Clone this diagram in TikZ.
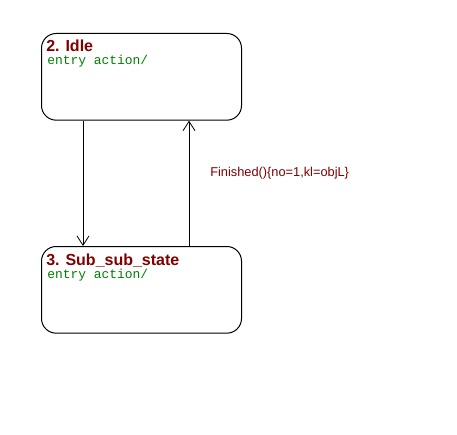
\documentclass[tikz,border=0pt]{standalone}
\usepackage{fontspec}
\setmainfont{Liberation Sans}
\newfontfamily\monof{Liberation Mono}
\usetikzlibrary{arrows.meta}
\definecolor{titlered}{HTML}{800000}
\definecolor{entrygreen}{HTML}{008000}
\begin{document}
\begin{tikzpicture}[x=0.75pt,y=-0.75pt,
  statebox/.style={draw, line width=0.75pt, rounded corners=11pt, minimum width=150pt, minimum height=65pt, inner sep=0pt, anchor=north west},
  statetitle/.style={anchor=base west, inner sep=0pt, text=titlered, font=\fontsize{12pt}{14pt}\selectfont\bfseries},
  entrytext/.style={anchor=base west, inner sep=0pt, text=entrygreen, font=\monof\fontsize{9.7pt}{11pt}\selectfont},
  trans/.style={draw, line width=0.75pt, -{Straight Barb[length=7pt,width=9pt,line width=0.6pt]}},
  translabel/.style={anchor=base west, inner sep=0pt, text=titlered, font=\fontsize{9.6pt}{11pt}\selectfont}]
\useasboundingbox (0,0) rectangle (457,435);
\node[statebox] (idle) at (41,33) {};
\node[statebox] (sub) at (41,246) {};
\node[statetitle] (idlet) at (46,51.5) {2. Idle};
\node[entrytext] (idlee) at (47,64.5) {entry action/};
\node[statetitle] (subt) at (46,265.5) {3. Sub\_sub\_state};
\node[entrytext] (sube) at (47,278.5) {entry action/};
\draw[trans] ([xshift=31.5pt]idle.south west) -- ([xshift=31.5pt]sub.north west);
\draw[trans] ([xshift=111pt]sub.north west) -- ([xshift=111pt]idle.south west);
\node[translabel] (lab) at (210,176) {Finished()\{no=1,kl=objL\}};
\end{tikzpicture}
\end{document}
